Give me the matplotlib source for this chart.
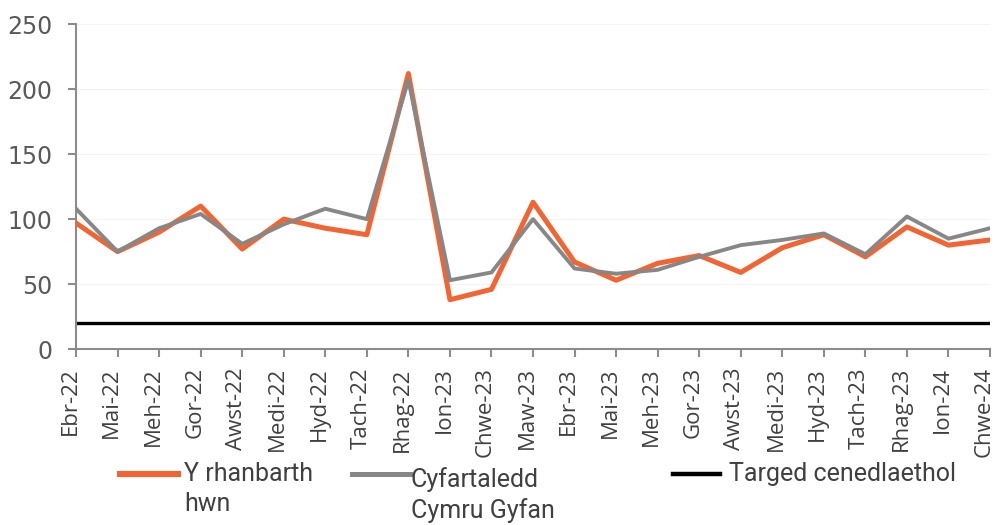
import numpy as np
import matplotlib
matplotlib.use("Agg")
import matplotlib.pyplot as plt
import matplotlib.transforms as mtransforms
from matplotlib.lines import Line2D

# data
months = ["Ebr-22", "Mai-22", "Meh-22", "Gor-22", "Awst-22", "Medi-22", "Hyd-22",
          "Tach-22", "Rhag-22", "Ion-23", "Chwe-23", "Maw-23", "Ebr-23", "Mai-23",
          "Meh-23", "Gor-23", "Awst-23", "Medi-23", "Hyd-23", "Tach-23", "Rhag-23",
          "Ion-24", "Chwe-24"]
region = [97, 75, 90, 110, 77, 100, 93, 88, 212, 38, 46, 113, 67, 53, 66, 72,
          59, 78, 88, 71, 94, 80, 84]
wales_avg = [108, 75, 93, 104, 81, 96, 108, 100, 207, 53, 59, 100, 62, 58, 61, 71,
             80, 84, 89, 73, 102, 85, 93]
target = [20] * len(months)

labels = ["Y rhanbarth\nhwn", "Cyfartaledd\nCymru Gyfan", "Targed cenedlaethol"]
colors = ["#F26532", "#878787", "#000000"]
lws = [3.6, 2.8, 2.4]

W, H = 998, 525
fig = plt.figure(figsize=(W / 100, H / 100), dpi=100)
ax = fig.add_axes([0.0762, 0.335, 0.9158, 0.619])

x = np.arange(len(months))
ax.plot(x, target, color=colors[2], lw=lws[2], solid_capstyle="butt", zorder=2)
ax.plot(x, region, color=colors[0], lw=lws[0], zorder=3)
ax.plot(x, wales_avg, color=colors[1], lw=lws[1], zorder=4)

ax.set_xlim(0, len(months) - 1)
ax.set_ylim(0, 250)
ax.set_yticks(np.arange(0, 251, 50))
ax.set_xticks(x)
ax.set_xticklabels([])
for t in ax.get_yticklabels():
    t.set_fontsize(17)
    t.set_color("#595959")
    t.set_family(["DejaVu Sans"])

# month labels as text so they can sit a touch left of the ticks, like the original
lab_tr = ax.get_xaxis_transform() + mtransforms.ScaledTranslation(-6 / 100, -18 / 100, fig.dpi_scale_trans)
for i, m in enumerate(months):
    ax.text(i, 0, m, transform=lab_tr, rotation=90, ha="center", va="top", fontsize=16,
            family=["Open Sans", "DejaVu Sans"], color="#404040", clip_on=False)

ax.grid(axis="y", color="#f4f4f4", lw=0.8)
ax.set_axisbelow(True)
for s in ["top", "right"]:
    ax.spines[s].set_visible(False)
for s in ["left", "bottom"]:
    ax.spines[s].set_color("#8c8c8c")
    ax.spines[s].set_linewidth(1.5)
ax.tick_params(axis="both", color="#8c8c8c", width=1.5, length=6)
ax.tick_params(axis="y", pad=11)

# legend drawn by hand so it sits like the original (handle by the first line)
handle_px = [(120, 178, 474), (352, 410, 474), (673, 720, 474)]
text_px = [(184, 462), (411, 467), (729, 462)]
for lab, c, lw, (x0, x1, yh), (tx, ty) in zip(labels, colors, lws, handle_px, text_px):
    fig.add_artist(Line2D([x0 / W, x1 / W], [1 - yh / H, 1 - yh / H], color=c, lw=lw + 0.8,
                          transform=fig.transFigure))
    fig.text(tx / W, 1 - ty / H, lab, ha="left", va="top", fontsize=18,
             family=["Roboto", "DejaVu Sans"], color="#404040", linespacing=1.3,
             zorder=5)

fig.savefig("out.png", dpi=100)
